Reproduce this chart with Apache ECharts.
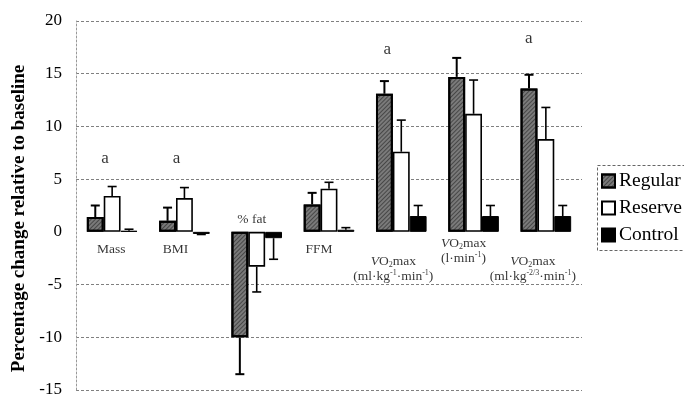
<!DOCTYPE html>
<html><head><meta charset="utf-8">
<script src="https://cdn.jsdelivr.net/npm/echarts@6/dist/echarts.min.js"></script>
<style>html,body{margin:0;padding:0;background:#fff}#c{width:684px;height:399px}</style>
</head><body><div id="c"></div>
<script>
var categories = ['Mass', 'BMI', '% fat', 'FFM', 'VO2max (ml·kg-1·min-1)', 'VO2max (l·min-1)', 'VO2max (ml·kg-2/3·min-1)'];
var seriesNames = ['Regular', 'Reserve', 'Control'];
var regular = [1.4, 1.05, -10.0, 2.6, 13.1, 14.7, 13.6];
var regularErr = [1.1, 1.25, 3.5, 1.1, 1.2, 1.8, 1.3];
var reserve = [3.4, 3.2, -3.3, 4.1, 7.6, 11.2, 8.8];
var reserveErr = [0.9, 1.0, 2.4, 0.6, 3.0, 3.2, 3.0];
var control = [0.1, -0.2, -0.6, 0.2, 1.5, 1.5, 1.5];
var controlErr = [0.15, 0.05, 2.0, 0.2, 1.0, 1.0, 1.0];
var yTicks = [-15, -10, -5, 0, 5, 10, 15, 20];
// significance markers: [category index, y value]
var sigMarks = [[0, 7.0], [1, 7.0], [4, 17.3], [6, 18.3]];
// category label anchors: [category index, y value]
var catLabelPos = [[0, -1.7], [1, -1.7], [2, 1.2], [3, -1.7], [4, -3.5], [5, -1.8], [6, -3.5]];

// label horizontal nudges (px), styling only
var sigNudge = { 0: -7, 1: -8, 4: -14, 6: -17 };
var catNudge = { 0: -1, 1: -9, 2: -5, 3: -10, 4: -8, 5: -10, 6: -13 };

var chart = echarts.init(document.getElementById('c'));
var SERIF = 'Liberation Serif, serif';
var values = [regular, reserve, control];
var errs = [regularErr, reserveErr, controlErr];

function errSeries(idx) {
  var data = values[idx].map(function (v, i) { return [i, v, errs[idx][i]]; });
  return {
    type: 'custom', z: 5, silent: true,
    data: data,
    renderItem: function (params, api) {
      var ci = api.value(0), v = api.value(1), e = api.value(2);
      var band = api.size([1, 0])[0];
      var bw = band * 0.7 / 3;
      var base = api.coord([ci, v]);
      var x = base[0] + (idx - 1) * bw;
      var end = api.coord([ci, v >= 0 ? v + e : v - e]);
      var cap = 4.5;
      var st = { stroke: '#000', lineWidth: idx === 0 ? 2 : 1.6 };
      return { type: 'group', children: [
        { type: 'line', shape: { x1: x, y1: base[1], x2: x, y2: end[1] }, style: st },
        { type: 'line', shape: { x1: x - cap, y1: end[1], x2: x + cap, y2: end[1] }, style: st }
      ]};
    }
  };
}

var vLabels = {
  4: '{i|V}{n|O}{sub|2}{n|max}\n{n|(ml·kg}{sup|-1}{n|·min}{sup|-1}{n|)}',
  5: '{i|V}{n|O}{sub|2}{n|max}\n{n|(l·min}{sup|-1}{n|)}',
  6: '{i|V}{n|O}{sub|2}{n|max}\n{n|(ml·kg}{sup|-2/3}{n|·min}{sup|-1}{n|)}'
};
var richStyle = {
  n: { fontFamily: SERIF, fontSize: 13.5, color: '#000', lineHeight: 15 },
  i: { fontFamily: SERIF, fontSize: 13.5, fontStyle: 'italic', color: '#000', lineHeight: 15 },
  sub: { fontFamily: SERIF, fontSize: 8, color: '#000', lineHeight: 15, verticalAlign: 'bottom', padding: [6, 0, 0, 0] },
  sup: { fontFamily: SERIF, fontSize: 8, color: '#000', lineHeight: 15, verticalAlign: 'top', padding: [0, 0, 6, 0] }
};

var option = {
  animation: false,
  backgroundColor: '#fff',
  grid: { left: 76, top: 21, width: 506, bottom: 9, containLabel: false },
  legend: {
    orient: 'vertical', left: 596, top: 166, itemWidth: 13, itemHeight: 13, itemGap: 7, icon: 'rect',
    data: seriesNames,
    textStyle: { fontFamily: SERIF, fontSize: 19.5, color: '#000', padding: [0, 0, 0, -1] }
  },
  xAxis: {
    type: 'category', data: categories,
    axisLine: { show: false }, axisTick: { show: false }, axisLabel: { show: false }, splitLine: { show: false }
  },
  yAxis: {
    type: 'value', min: -15, max: 20, interval: 5,
    name: 'Percentage change relative to baseline', nameLocation: 'middle', nameGap: 45,
    nameTextStyle: { fontFamily: SERIF, fontSize: 19, fontWeight: 'bold', color: '#000', padding: [0, 26, 0, 0] },
    axisLine: { show: true, lineStyle: { color: '#999', type: [2, 2], width: 1 } },
    axisTick: { show: false },
    axisLabel: { fontFamily: SERIF, fontSize: 17, color: '#000', margin: 14,
      formatter: function (v) { return yTicks.indexOf(v) >= 0 ? String(v) : ''; } },
    splitLine: { show: true, lineStyle: { color: ['#808080', '#808080', '#808080', 'rgba(0,0,0,0)', '#808080', '#808080', '#808080', '#808080'], type: [3, 2], width: 1 } }
  },
  series: [
    { name: 'Regular', type: 'bar', data: regular, barGap: '0%', barCategoryGap: '30%',
      itemStyle: { color: '#7a7a7a', borderColor: '#000', borderWidth: 2,
        decal: { symbol: 'rect', symbolSize: 1, dashArrayX: [1, 0], dashArrayY: [1, 2], rotation: -Math.PI / 4, color: 'rgba(20,20,20,0.5)' } } },
    { name: 'Reserve', type: 'bar', data: reserve, barGap: '0%', barCategoryGap: '30%',
      itemStyle: { color: '#fff', borderColor: '#000', borderWidth: 1.6 } },
    { name: 'Control', type: 'bar', data: control, barGap: '0%', barCategoryGap: '30%',
      itemStyle: { color: '#000', borderColor: '#000', borderWidth: 1 } },
    errSeries(0), errSeries(1), errSeries(2),
    { type: 'scatter', symbol: 'circle', symbolSize: 1, silent: true, z: 6,
      itemStyle: { color: 'rgba(0,0,0,0)' },
      data: sigMarks.map(function (d) {
        return { value: d, label: { offset: [sigNudge[d[0]] || 0, 0] } };
      }),
      label: { show: true, position: 'inside', formatter: 'a',
        fontFamily: SERIF, fontSize: 17, color: '#000' } },
    { type: 'scatter', symbol: 'circle', symbolSize: 1, silent: true, z: 6,
      itemStyle: { color: 'rgba(0,0,0,0)' },
      data: catLabelPos.map(function (d) {
        return { value: d, label: { offset: [catNudge[d[0]] || 0, 0] } };
      }),
      label: { show: true, position: 'inside',
        formatter: function (p) {
          var ci = p.value[0];
          if (vLabels[ci]) return vLabels[ci];
          return '{n|' + categories[ci] + '}';
        },
        rich: richStyle, align: 'center' } }
  ],
  graphic: [
    { type: 'rect', left: 595, top: 163, shape: { width: 120, height: 85 },
      style: { fill: 'none', stroke: '#666', lineWidth: 1, lineDash: [3, 2] }, z: -1 }
  ]
};
chart.setOption(option);
</script></body></html>
